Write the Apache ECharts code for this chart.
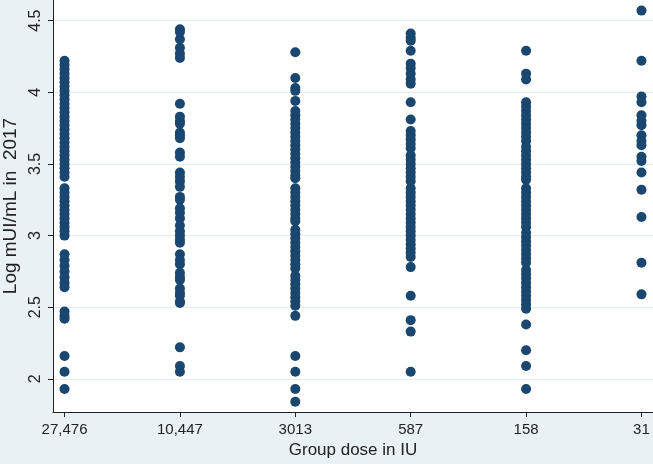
<!DOCTYPE html>
<html>
<head>
<meta charset="utf-8">
<script src="https://cdn.jsdelivr.net/npm/echarts@6/dist/echarts.min.js"></script>
<style>
  html, body { margin: 0; padding: 0; background: #eaf1f4; }
  #chart { width: 653px; height: 464px; }
</style>
</head>
<body>
<div id="chart"></div>
<script>
// Group dose categories (x positions 1..6)
const doseLabels = ['27,476', '10,447', '3013', '587', '158', '31'];

// Log mUI/mL in 2017 per group
const g27476 = [4.22, 4.19, 4.16, 4.13, 4.10, 4.07, 4.04, 4.01, 3.98, 3.95, 3.92, 3.89, 3.86, 3.83, 3.80, 3.77, 3.74, 3.71, 3.68, 3.65, 3.62, 3.59, 3.56, 3.53, 3.50, 3.47, 3.44, 3.41, 3.33, 3.30, 3.27, 3.24, 3.21, 3.18, 3.15, 3.12, 3.09, 3.06, 3.03, 3.00, 2.87, 2.83, 2.79, 2.75, 2.71, 2.67, 2.64, 2.47, 2.44, 2.42, 2.16, 2.05, 1.93];
const g10447 = [4.44, 4.42, 4.37, 4.31, 4.27, 4.24, 3.92, 3.83, 3.80, 3.78, 3.72, 3.70, 3.68, 3.58, 3.55, 3.44, 3.41, 3.38, 3.34, 3.27, 3.25, 3.19, 3.16, 3.12, 3.07, 3.03, 3.00, 2.97, 2.95, 2.87, 2.83, 2.80, 2.74, 2.71, 2.69, 2.63, 2.60, 2.58, 2.54, 2.53, 2.22, 2.09, 2.05];
const g3013 = [4.28, 4.10, 4.03, 4.01, 3.94, 3.87, 3.84, 3.81, 3.78, 3.75, 3.72, 3.69, 3.66, 3.63, 3.60, 3.57, 3.54, 3.51, 3.48, 3.45, 3.42, 3.40, 3.33, 3.30, 3.27, 3.24, 3.21, 3.18, 3.15, 3.12, 3.10, 3.04, 3.01, 2.98, 2.95, 2.92, 2.89, 2.86, 2.83, 2.80, 2.77, 2.72, 2.69, 2.66, 2.63, 2.60, 2.57, 2.54, 2.51, 2.44, 2.16, 2.05, 1.93, 1.84];
const g587 = [4.41, 4.38, 4.36, 4.29, 4.20, 4.17, 4.13, 4.09, 4.06, 3.93, 3.81, 3.73, 3.70, 3.67, 3.64, 3.61, 3.56, 3.53, 3.50, 3.47, 3.44, 3.41, 3.38, 3.33, 3.30, 3.27, 3.24, 3.21, 3.18, 3.15, 3.12, 3.09, 3.06, 3.03, 3.00, 2.97, 2.94, 2.91, 2.88, 2.85, 2.78, 2.58, 2.41, 2.33, 2.05];
const g158 = [4.29, 4.13, 4.09, 3.93, 3.90, 3.87, 3.84, 3.81, 3.78, 3.75, 3.72, 3.69, 3.66, 3.62, 3.59, 3.56, 3.53, 3.50, 3.47, 3.44, 3.41, 3.39, 3.33, 3.30, 3.27, 3.24, 3.21, 3.18, 3.15, 3.12, 3.09, 3.06, 3.02, 2.99, 2.96, 2.93, 2.90, 2.87, 2.84, 2.81, 2.76, 2.73, 2.70, 2.67, 2.64, 2.61, 2.58, 2.55, 2.52, 2.49, 2.38, 2.20, 2.09, 1.93];
const g31 = [4.57, 4.22, 3.97, 3.93, 3.84, 3.80, 3.77, 3.70, 3.66, 3.63, 3.55, 3.52, 3.44, 3.32, 3.13, 2.81, 2.59];

const groups = [g27476, g10447, g3013, g587, g158, g31];
const xTicks = [1, 2, 3, 4, 5, 6];
const yTicks = [2, 2.5, 3, 3.5, 4, 4.5];

const points = [];
groups.forEach((arr, i) => arr.forEach(v => points.push([xTicks[i], v])));

const font = 'Liberation Sans, Arial, Helvetica, sans-serif';
const chart = echarts.init(document.getElementById('chart'));
chart.setOption({
  backgroundColor: '#eaf1f4',
  animation: false,
  grid: {
    left: 53, right: 0, top: 0, bottom: 52,
    containLabel: false, outerBoundsMode: 'none',
    show: true, backgroundColor: '#ffffff', borderWidth: 0
  },
  xAxis: {
    type: 'value',
    min: 0.9, max: 6.1,
    name: 'Group dose in IU',
    nameLocation: 'middle',
    nameGap: 30,
    nameTextStyle: { fontFamily: font, fontSize: 17, color: '#222' },
    axisLine: { show: true, onZero: false, lineStyle: { color: '#222', width: 1 } },
    axisTick: { show: true, length: 5, lineStyle: { color: '#222' }, customValues: xTicks },
    axisLabel: {
      fontFamily: font, fontSize: 15, color: '#222', margin: 10,
      customValues: xTicks,
      formatter: v => doseLabels[Math.round(v) - 1]
    },
    splitLine: { show: false }
  },
  yAxis: {
    type: 'value',
    min: 1.769, max: 4.644,
    name: 'Log mUI/mL in  2017',
    nameLocation: 'middle',
    nameGap: 30,
    nameTextStyle: { fontFamily: font, fontSize: 19, color: '#222' },
    axisLine: { show: true, lineStyle: { color: '#222', width: 1 } },
    axisTick: { show: true, length: 5, lineStyle: { color: '#222' }, customValues: yTicks },
    axisLabel: {
      fontFamily: font, fontSize: 16, color: '#222', margin: 9, rotate: 90,
      customValues: yTicks
    },
    splitLine: { show: true, lineStyle: { color: '#e4edf0', width: 1 } }
  },
  series: [{
    type: 'scatter',
    data: points,
    symbol: 'circle',
    symbolSize: 10,
    itemStyle: { color: '#1a476f', opacity: 1 }
  }]
});
</script>
</body>
</html>
